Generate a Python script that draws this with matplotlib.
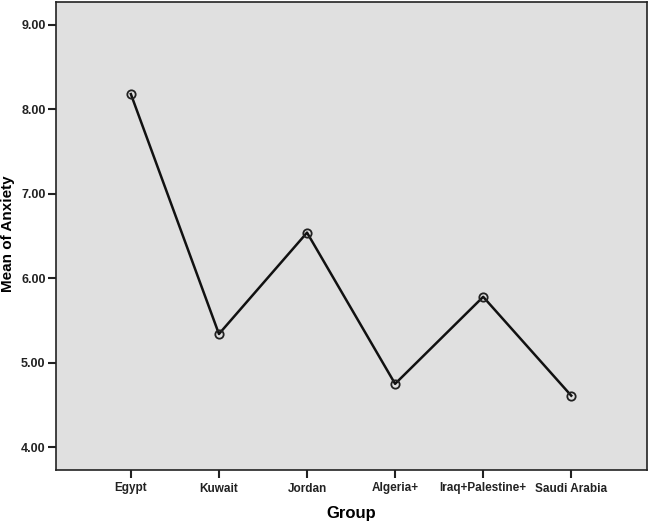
import matplotlib.pyplot as plt
import numpy as np

plt.rcParams['font.family'] = ['Liberation Sans', 'DejaVu Sans']

groups = ['Egypt', 'Kuwait', 'Jordan', 'Algeria+', 'Iraq+Palestine+', 'Saudi Arabia']
mean_anxiety = [8.18, 5.34, 6.54, 4.75, 5.78, 4.61]
yticks = [4, 5, 6, 7, 8, 9]

fig = plt.figure(figsize=(6.49, 5.21), dpi=100)
ax = fig.add_axes([56 / 649, 1 - 470 / 521, 591 / 649, 468 / 521])
ax.set_facecolor('#e0e0e0')

x = np.arange(len(groups))
ax.plot(x, mean_anxiety, color='#111111', lw=1.8, marker='o', ms=6,
        mfc='none', mec='#222222', mew=1.3)

ax.set_xlim(-0.85, 5.86)
ax.set_ylim(3.73, 9.27)
ax.set_xticks(x)
ax.set_xticklabels(groups, fontsize=8.5, fontweight='bold', color='#222222')
ax.set_yticks(yticks)
ax.set_yticklabels([f'{v:.2f}' for v in yticks], fontsize=9, fontweight='bold', color='#222222')
ax.tick_params(axis='both', length=6, width=1.5, color='#222222')
ax.tick_params(axis='y', pad=1.5)
ax.tick_params(axis='x', pad=3)

for s in ax.spines.values():
    s.set_linewidth(1.2)
    s.set_color('#222222')

ax.set_ylabel('Mean of Anxiety', fontsize=11, fontweight='bold')
ax.yaxis.set_label_coords(-0.07, 0.505)
ax.set_xlabel('Group', fontsize=12, fontweight='bold', labelpad=8)

fig.savefig('out.png', dpi=100)
